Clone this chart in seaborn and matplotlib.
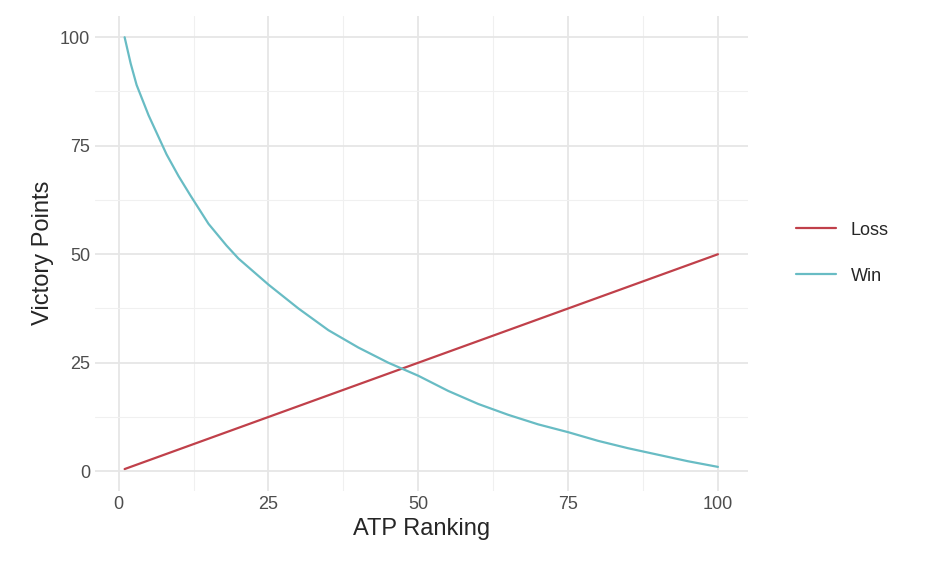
import numpy as np
import pandas as pd
import seaborn as sns
import matplotlib.pyplot as plt
from matplotlib.ticker import MultipleLocator

# values
win_rank = [1, 2, 3, 4, 5, 6, 8, 10, 12, 15, 18, 20, 25, 30, 35, 40, 45, 50,
            55, 60, 65, 70, 75, 80, 85, 90, 95, 100]
win_pts = [100, 94, 89, 85.5, 82, 79, 73, 68, 63.5, 57, 52, 49, 43, 37.5, 32.5,
           28.5, 25, 22, 18.5, 15.5, 13, 10.8, 9, 7, 5.3, 3.8, 2.3, 1]
loss_rank = [1, 100]
loss_pts = [0.5, 50]

df = pd.concat([
    pd.DataFrame({'rank': loss_rank, 'points': loss_pts, 'result': 'Loss'}),
    pd.DataFrame({'rank': win_rank, 'points': win_pts, 'result': 'Win'}),
])

sns.set_style('whitegrid')
plt.rcParams['font.family'] = ['Liberation Sans', 'DejaVu Sans']
fig = plt.figure(figsize=(9.31, 5.76), dpi=100)
ax = fig.add_axes([0.102, 0.148, 0.701, 0.825])
sns.lineplot(data=df, x='rank', y='points', hue='result',
             palette={'Loss': '#C0404A', 'Win': '#68BCC4'}, linewidth=1.6, ax=ax)

ax.set_xlim(-3.95, 104.95)
ax.set_ylim(-4.5, 105)
ax.xaxis.set_major_locator(MultipleLocator(25))
ax.yaxis.set_major_locator(MultipleLocator(25))
ax.xaxis.set_minor_locator(MultipleLocator(12.5))
ax.yaxis.set_minor_locator(MultipleLocator(12.5))
ax.grid(which='major', color='#E6E6E6', linewidth=1.3)
ax.grid(which='minor', color='#F0F0F0', linewidth=0.8)
for s in ax.spines.values():
    s.set_visible(False)
ax.tick_params(axis='both', which='both', length=0, labelsize=13, labelcolor='#4D4D4D')
ax.set_xlabel('ATP Ranking', fontsize=17)
ax.set_ylabel('Victory Points', fontsize=17)

leg = ax.legend(title=None, frameon=False, fontsize=13, loc='center left',
                bbox_to_anchor=(1.05, 0.5), handlelength=2.2, labelspacing=1.6)

fig.savefig('out.png', dpi=100)
